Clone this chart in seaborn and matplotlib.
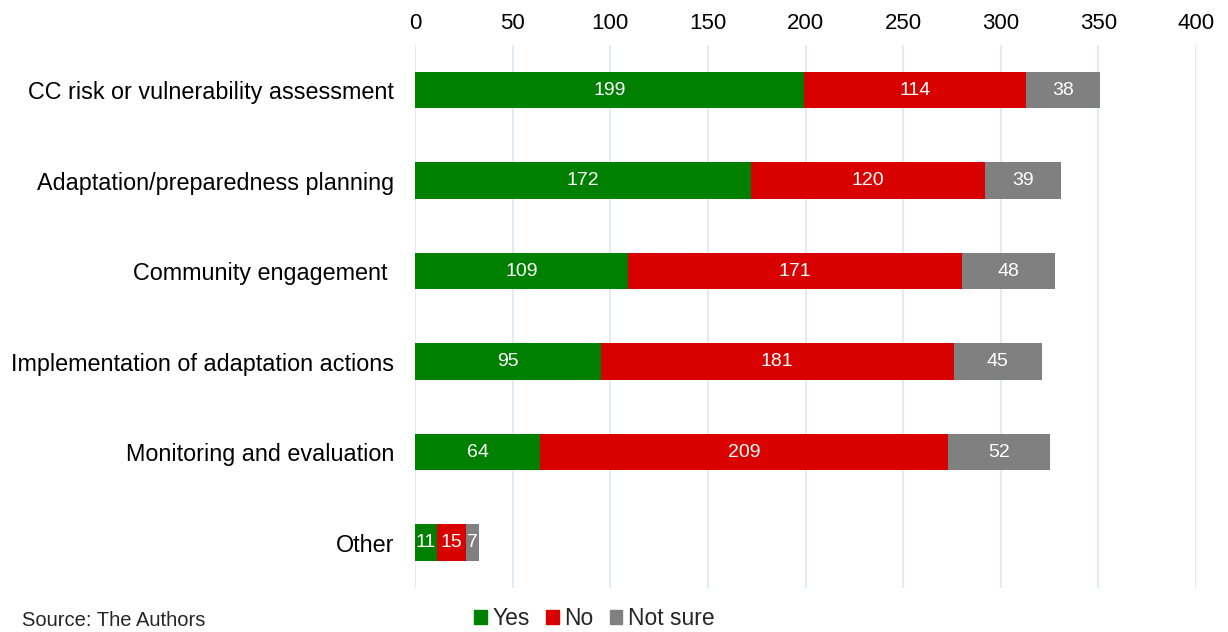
import pandas as pd
import seaborn as sns
import matplotlib.pyplot as plt
from matplotlib.patches import Patch

# --- datos ---
categories = [
    "CC risk or vulnerability assessment",
    "Adaptation/preparedness planning",
    "Community engagement ",
    "Implementation of adaptation actions",
    "Monitoring and evaluation",
    "Other",
]
yes = [199, 172, 109, 95, 64, 11]
no = [114, 120, 171, 181, 209, 15]
not_sure = [38, 39, 48, 45, 52, 7]

colors = {"Yes": "#008000", "No": "#d90000", "Not sure": "#808080"}

df = pd.DataFrame({"category": categories, "Yes": yes, "No": no, "Not sure": not_sure})
df["yes_no"] = df["Yes"] + df["No"]
df["total"] = df["yes_no"] + df["Not sure"]

sns.set_style("white")
plt.rcParams["font.family"] = ["Liberation Sans", "DejaVu Sans"]

fig = plt.figure(figsize=(12.28, 6.32), dpi=100)
ax = fig.add_axes([0.338, 0.070, 0.636, 0.859])

# barras apiladas: se dibujan acumulados de mayor a menor
for col, color in [("total", colors["Not sure"]), ("yes_no", colors["No"]), ("Yes", colors["Yes"])]:
    sns.barplot(data=df, x=col, y="category", color=color, width=0.4,
                saturation=1, linewidth=0, ax=ax, zorder=3)

# etiquetas en el centro de cada segmento
for i, row in df.iterrows():
    starts = [0, row["Yes"], row["yes_no"]]
    vals = [row["Yes"], row["No"], row["Not sure"]]
    for s, v in zip(starts, vals):
        ax.text(s + v / 2, i, str(v), ha="center", va="center",
                color="white", fontsize=14, zorder=4)

ax.set_xlim(0, 400)
ax.set_xticks(range(0, 401, 50))
ax.xaxis.tick_top()
ax.xaxis.grid(True, color="#dde6f4", linewidth=1.2, zorder=0)
ax.set_axisbelow(True)
ax.tick_params(axis="x", length=0, labelsize=16, pad=8, labelcolor="black")
ax.tick_params(axis="y", length=0, labelsize=16.8, pad=15, labelcolor="black")
ax.set_xlabel("")
ax.set_ylabel("")
for sp in ax.spines.values():
    sp.set_visible(False)

handles = [Patch(color=c, label=l) for l, c in colors.items()]
fig.legend(handles=handles, loc="center", bbox_to_anchor=(0.484, 0.021), ncol=3,
           frameon=False, fontsize=16.5, handlelength=0.55, handleheight=0.55,
           handletextpad=0.25, columnspacing=0.7)

fig.text(0.018, 0.018, "Source: The Authors", fontsize=14.5, ha="left", va="center")

plt.savefig("out.png", dpi=100)
plt.close()
